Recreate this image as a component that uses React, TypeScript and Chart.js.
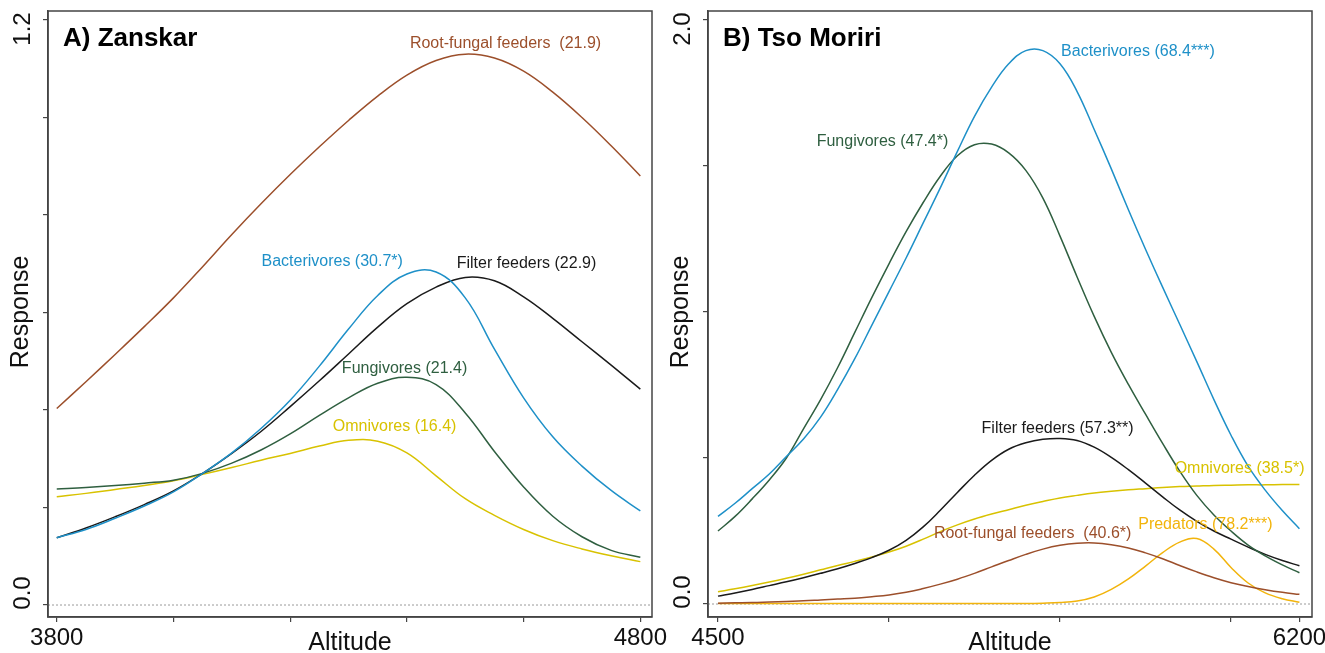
import React, { useEffect, useRef } from "react";
import { Chart, registerables } from "chart.js";

Chart.register(...registerables);

const FONT = '"Liberation Sans", Arial, Helvetica, sans-serif';

// ---------------- Panel A: Zanskar ----------------
const altitudeA = [3800, 3850, 3900, 3950, 4000, 4050, 4100, 4150, 4200, 4250, 4300, 4350, 4400, 4450, 4500, 4550, 4600, 4650, 4700, 4750, 4800];
const rootFungalA = [0.403, 0.458, 0.514, 0.571, 0.63, 0.694, 0.76, 0.823, 0.883, 0.94, 0.994, 1.044, 1.087, 1.117, 1.13, 1.122, 1.095, 1.052, 1.0, 0.942, 0.88];
const bacterivoresA = [0.138, 0.155, 0.178, 0.203, 0.232, 0.27, 0.312, 0.362, 0.42, 0.49, 0.566, 0.635, 0.679, 0.683, 0.63, 0.525, 0.425, 0.345, 0.285, 0.235, 0.193];
const filterFeedersA = [0.138, 0.158, 0.181, 0.206, 0.234, 0.27, 0.311, 0.356, 0.407, 0.46, 0.515, 0.57, 0.618, 0.652, 0.672, 0.665, 0.632, 0.588, 0.54, 0.492, 0.443];
const fungivoresA = [0.238, 0.241, 0.245, 0.25, 0.256, 0.27, 0.291, 0.318, 0.351, 0.389, 0.425, 0.455, 0.467, 0.452, 0.394, 0.315, 0.242, 0.182, 0.14, 0.112, 0.098];
const omnivoresA = [0.222, 0.229, 0.237, 0.245, 0.255, 0.268, 0.282, 0.297, 0.311, 0.326, 0.338, 0.336, 0.312, 0.265, 0.218, 0.184, 0.155, 0.132, 0.115, 0.101, 0.089];
const xTicksA = [3800, 4000, 4200, 4400, 4600, 4800];
const xTickLabelsA = [3800, 4800];
const yTicksA = [0, 0.2, 0.4, 0.6, 0.8, 1.0, 1.2];
const yTickLabelsA = [0, 1.2];

// ---------------- Panel B: Tso Moriri ----------------
const altitudeB = [4500, 4550, 4600, 4650, 4700, 4750, 4800, 4850, 4900, 4950, 5000, 5050, 5100, 5150, 5200, 5250, 5300, 5350, 5400, 5450, 5500, 5550, 5600, 5650, 5700, 5750, 5800, 5850, 5900, 5950, 6000, 6050, 6100, 6150, 6200];
const bacterivoresB = [0.3, 0.345, 0.395, 0.445, 0.505, 0.565, 0.64, 0.735, 0.84, 0.955, 1.07, 1.185, 1.305, 1.425, 1.55, 1.67, 1.77, 1.85, 1.895, 1.895, 1.85, 1.755, 1.625, 1.49, 1.35, 1.215, 1.085, 0.958, 0.83, 0.7, 0.578, 0.472, 0.39, 0.32, 0.258];
const fungivoresB = [0.25, 0.3, 0.36, 0.425, 0.5, 0.6, 0.7, 0.81, 0.93, 1.05, 1.165, 1.275, 1.375, 1.465, 1.535, 1.573, 1.575, 1.545, 1.485, 1.39, 1.26, 1.12, 0.985, 0.862, 0.752, 0.65, 0.55, 0.455, 0.372, 0.305, 0.25, 0.202, 0.165, 0.134, 0.107];
const filterFeedersB = [0.027, 0.038, 0.05, 0.063, 0.076, 0.09, 0.105, 0.121, 0.139, 0.159, 0.184, 0.218, 0.264, 0.321, 0.382, 0.441, 0.492, 0.53, 0.552, 0.564, 0.567, 0.56, 0.537, 0.502, 0.46, 0.414, 0.367, 0.322, 0.283, 0.25, 0.222, 0.195, 0.17, 0.149, 0.131];
const omnivoresB = [0.042, 0.052, 0.063, 0.075, 0.088, 0.102, 0.117, 0.132, 0.146, 0.161, 0.178, 0.198, 0.222, 0.248, 0.271, 0.291, 0.308, 0.323, 0.338, 0.351, 0.363, 0.372, 0.38, 0.386, 0.391, 0.395, 0.399, 0.402, 0.404, 0.406, 0.407, 0.408, 0.408, 0.409, 0.409];
const rootFungalB = [0.003, 0.004, 0.005, 0.007, 0.009, 0.011, 0.014, 0.017, 0.02, 0.025, 0.031, 0.04, 0.053, 0.068, 0.085, 0.105, 0.127, 0.149, 0.17, 0.188, 0.201, 0.208, 0.209, 0.203, 0.192, 0.175, 0.155, 0.132, 0.11, 0.09, 0.073, 0.06, 0.049, 0.04, 0.033];
const predatorsB = [0.002, 0.002, 0.002, 0.002, 0.002, 0.002, 0.002, 0.002, 0.002, 0.002, 0.002, 0.002, 0.002, 0.002, 0.002, 0.002, 0.002, 0.002, 0.002, 0.003, 0.005, 0.01, 0.024, 0.05, 0.086, 0.13, 0.176, 0.212, 0.224, 0.188, 0.125, 0.072, 0.038, 0.018, 0.006];
const xTicksB = [4500, 5000, 5500, 6000, 6200];
const xTickLabelsB = [4500, 6200];
const yTicksB = [0, 0.5, 1.0, 1.5, 2.0];
const yTickLabelsB = [0, 2.0];

// colours
const BROWN = "#9C4F2B";
const BLUE = "#1E90C8";
const GREEN = "#2F5F40";
const BLACK = "#1A1A1A";
const YELLOW = "#D8C200";
const ORANGE = "#F2B40C";

type Series = { name: string; values: number[]; color: string; at: [number, number] };
type Spec = {
  title: string;
  alt: number[];
  series: Series[];
  xMin: number; xMax: number; yMin: number; yMax: number;
  xTicks: number[]; xLabels: number[]; yTicks: number[]; yLabels: number[];
  padRight: number;
};

const specA: Spec = {
  title: "A) Zanskar",
  alt: altitudeA,
  series: [
    { name: "Root-fungal feeders  (21.9)", values: rootFungalA, color: BROWN, at: [4569, 1.151] },
    { name: "Bacterivores (30.7*)", values: bacterivoresA, color: BLUE, at: [4272, 0.704] },
    { name: "Filter feeders (22.9)", values: filterFeedersA, color: BLACK, at: [4605, 0.6995] },
    { name: "Fungivores (21.4)", values: fungivoresA, color: GREEN, at: [4396, 0.4856] },
    { name: "Omnivores (16.4)", values: omnivoresA, color: YELLOW, at: [4379, 0.366] },
  ],
  xMin: 3785, xMax: 4820, yMin: -0.0246, yMax: 1.2185,
  xTicks: xTicksA, xLabels: xTickLabelsA, yTicks: yTicksA, yLabels: yTickLabelsA,
  padRight: 23,
};

const specB: Spec = {
  title: "B) Tso Moriri",
  alt: altitudeB,
  series: [
    { name: "Bacterivores (68.4***)", values: bacterivoresB, color: BLUE, at: [5728, 1.8914] },
    { name: "Fungivores (47.4*)", values: fungivoresB, color: GREEN, at: [4981, 1.583] },
    { name: "Filter feeders (57.3**)", values: filterFeedersB, color: BLACK, at: [5493, 0.6017] },
    { name: "Omnivores (38.5*)", values: omnivoresB, color: YELLOW, at: [6025, 0.4647] },
    { name: "Root-fungal feeders  (40.6*)", values: rootFungalB, color: BROWN, at: [5420, 0.2421] },
    { name: "Predators (78.2***)", values: predatorsB, color: ORANGE, at: [5925, 0.2705] },
  ],
  xMin: 4470.8, xMax: 6236.8, yMin: -0.0445, yMax: 2.0308,
  xTicks: xTicksB, xLabels: xTickLabelsB, yTicks: yTicksB, yLabels: yTickLabelsB,
  padRight: 13,
};

function fmtY(v: number) {
  return v.toFixed(1);
}

function decorPlugin(spec: Spec) {
  return {
    id: "decor",
    beforeDatasetsDraw(chart: any) {
      const { ctx, chartArea: a, scales } = chart;
      const y0 = scales.y.getPixelForValue(0);
      ctx.save();
      ctx.strokeStyle = "#9a9a9a";
      ctx.lineWidth = 1;
      ctx.setLineDash([2, 2]);
      ctx.beginPath();
      ctx.moveTo(a.left, y0);
      ctx.lineTo(a.right, y0);
      ctx.stroke();
      ctx.restore();
    },
    afterDraw(chart: any) {
      const { ctx, chartArea: a, scales } = chart;
      const xs = scales.x;
      const ys = scales.y;
      ctx.save();
      // frame
      ctx.strokeStyle = "#444";
      ctx.lineWidth = 1.5;
      ctx.setLineDash([]);
      ctx.strokeRect(a.left, a.top, a.right - a.left, a.bottom - a.top);

      // x tick labels
      ctx.fillStyle = "#111";
      ctx.font = `24px ${FONT}`;
      ctx.textAlign = "center";
      ctx.textBaseline = "alphabetic";
      spec.xLabels.forEach((v) => {
        ctx.fillText(String(v), xs.getPixelForValue(v), 645);
      });
      // x title
      ctx.font = `25px ${FONT}`;
      ctx.fillText("Altitude", (a.left + a.right) / 2, 650);

      // y tick labels (rotated)
      ctx.font = `24px ${FONT}`;
      spec.yLabels.forEach((v, i) => {
        const py = ys.getPixelForValue(v) + (i === 0 ? -12 : 9);
        ctx.save();
        ctx.translate(23, py);
        ctx.rotate(-Math.PI / 2);
        ctx.textAlign = "center";
        ctx.textBaseline = "middle";
        ctx.fillText(fmtY(v), 0, 0);
        ctx.restore();
      });
      // y title
      ctx.save();
      ctx.font = `25px ${FONT}`;
      ctx.translate(21, (a.top + a.bottom) / 2 - 2);
      ctx.rotate(-Math.PI / 2);
      ctx.textAlign = "center";
      ctx.textBaseline = "middle";
      ctx.fillText("Response", 0, 0);
      ctx.restore();

      // panel title
      ctx.font = `bold 26px ${FONT}`;
      ctx.textAlign = "left";
      ctx.textBaseline = "alphabetic";
      ctx.fillStyle = "#000";
      ctx.fillText(spec.title, a.left + 15, 46);

      // series labels
      ctx.font = `16px ${FONT}`;
      ctx.textAlign = "center";
      ctx.textBaseline = "middle";
      spec.series.forEach((s) => {
        ctx.fillStyle = s.color;
        ctx.fillText(s.name, xs.getPixelForValue(s.at[0]), ys.getPixelForValue(s.at[1]));
      });
      ctx.restore();
    },
  };
}

function Panel({ spec, left, width }: { spec: Spec; left: number; width: number }) {
  const ref = useRef<HTMLCanvasElement>(null);
  useEffect(() => {
    const canvas = ref.current;
    if (!canvas) return;
    const chart = new Chart(canvas, {
      type: "line",
      data: {
        datasets: spec.series.map((s) => ({
          label: s.name,
          data: spec.alt.map((x, i) => ({ x, y: s.values[i] })),
          borderColor: s.color,
          backgroundColor: s.color,
          borderWidth: 1.5,
          pointRadius: 0,
          fill: false,
          tension: 0.4,
        })),
      },
      options: {
        responsive: false,
        animation: false,
        devicePixelRatio: 1,
        events: [],
        layout: { padding: { top: 11, right: spec.padRight, left: 0, bottom: 0 } },
        plugins: { legend: { display: false }, tooltip: { enabled: false } },
        scales: {
          x: {
            type: "linear",
            min: spec.xMin,
            max: spec.xMax,
            afterBuildTicks: (s: any) => {
              s.ticks = spec.xTicks.map((v) => ({ value: v }));
            },
            afterFit: (s: any) => {
              s.height = 36;
            },
            ticks: { display: false },
            grid: { drawOnChartArea: false, drawTicks: true, tickLength: 5, color: "#444", lineWidth: 1.2 },
            border: { display: true, color: "#444", width: 1.5 },
          },
          y: {
            type: "linear",
            min: spec.yMin,
            max: spec.yMax,
            afterBuildTicks: (s: any) => {
              s.ticks = spec.yTicks.map((v) => ({ value: v }));
            },
            afterFit: (s: any) => {
              s.width = 48;
            },
            ticks: { display: false },
            grid: { drawOnChartArea: false, drawTicks: true, tickLength: 5, color: "#444", lineWidth: 1.2 },
            border: { display: true, color: "#444", width: 1.5 },
          },
        },
      },
      plugins: [decorPlugin(spec)],
    } as any);
    return () => chart.destroy();
  }, [spec]);
  return (
    <canvas
      ref={ref}
      width={width}
      height={653}
      style={{ position: "absolute", left, top: 0, width, height: 653 }}
    />
  );
}

export default function App() {
  return (
    <div style={{ position: "absolute", left: 0, top: 0, width: 1325, height: 653, background: "#fff" }}>
      <Panel spec={specA} left={0} width={675} />
      <Panel spec={specB} left={660} width={665} />
    </div>
  );
}
